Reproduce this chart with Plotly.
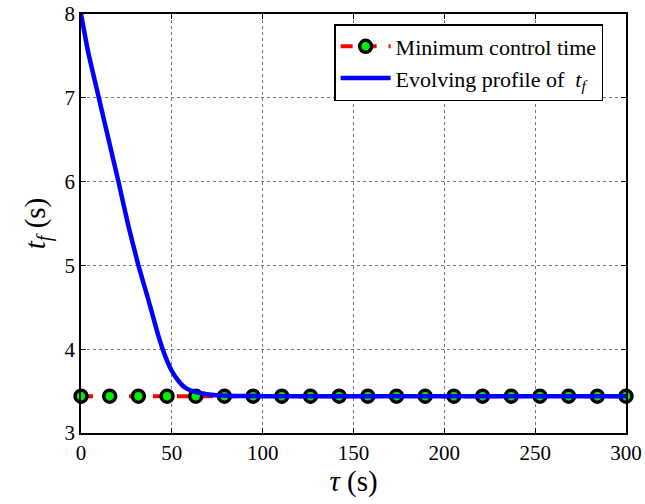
import plotly.graph_objects as go

# Minimum control time (constant reference, with markers)
min_tau = [0, 15.79, 31.58, 47.37, 63.16, 78.95, 94.74, 110.53, 126.32, 142.11,
           157.89, 173.68, 189.47, 205.26, 221.05, 236.84, 252.63, 268.42, 284.21, 300]
min_tf = [3.44] * len(min_tau)

# Evolving profile of t_f
evo_tau = [0, 4.0, 9.6, 15.1, 20.6, 26.1, 31.6, 37.1, 42.6, 46.3, 50.0, 53.7,
           57.4, 62.9, 70.2, 80, 100, 150, 200, 250, 300]
evo_tf = [8.0, 7.54, 7.02, 6.51, 6.0, 5.47, 5.0, 4.59, 4.16, 3.92, 3.74, 3.62,
          3.54, 3.49, 3.46, 3.445, 3.44, 3.44, 3.44, 3.44, 3.44]

x_ticks = [0, 50, 100, 150, 200, 250, 300]
y_ticks = [3, 4, 5, 6, 7, 8]

serif = "Times New Roman"

fig = go.Figure()
fig.add_trace(go.Scatter(
    x=min_tau, y=min_tf, mode="lines+markers",
    name="Minimum control time",
    line=dict(color="#ff0000", width=4, dash="dash"),
    marker=dict(size=12, color="#00ee00", line=dict(color="black", width=3.5)),
    cliponaxis=False,
))
fig.add_trace(go.Scatter(
    x=evo_tau, y=evo_tf, mode="lines",
    name="Evolving profile of  <i>t</i><sub><i>f</i></sub>",
    line=dict(color="#0000ff", width=4.5, shape="spline", smoothing=0.5),
))

axis_common = dict(
    showgrid=True, gridcolor="#777777", griddash="dot", gridwidth=1,
    showline=True, linecolor="black", linewidth=1.5, mirror="ticks",
    ticks="inside", ticklen=5, tickcolor="black", zeroline=False,
    tickfont=dict(family=serif, size=21, color="black"),
    automargin=False, ticklabeloverflow="allow",
)

fig.update_layout(
    width=645, height=504,
    margin=dict(l=81, r=19, t=14, b=71, autoexpand=False),
    paper_bgcolor="white", plot_bgcolor="white",
    font=dict(family=serif, color="black", size=21),
    xaxis=dict(range=[0, 300], tickvals=x_ticks,
               title=dict(text="<i>τ</i> (s)", font=dict(family=serif, size=29), standoff=2),
               **axis_common),
    yaxis=dict(range=[3, 8], tickvals=y_ticks,
               title=dict(text="<i>t</i><sub><i>f</i></sub> (s)", font=dict(family=serif, size=29), standoff=10),
               **axis_common),
    legend=dict(x=0.958, y=0.976, xanchor="right", yanchor="top",
                bgcolor="white", bordercolor="black", borderwidth=1.5,
                font=dict(family=serif, size=22, color="black"),
                itemwidth=50, tracegroupgap=0),
    showlegend=True,
)

# Remove the browser's default 8 px body margin so the figure fills the window.
fig.write_html("out.html", config={"displayModeBar": False},
               post_script="document.body.style.margin='0';")
